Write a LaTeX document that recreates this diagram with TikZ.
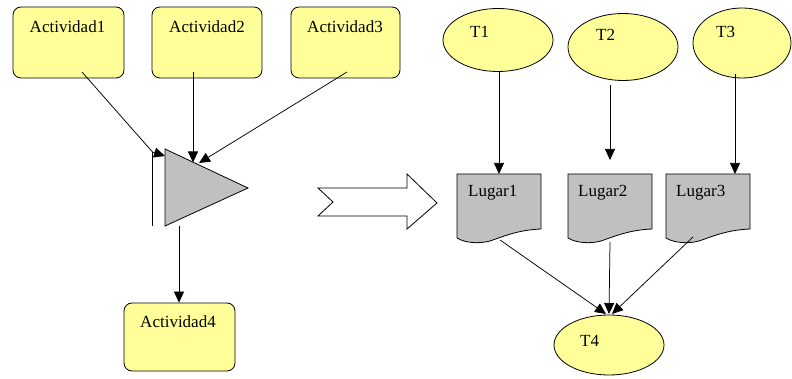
\documentclass[tikz,border=0pt]{standalone}
\usepackage{fontspec}
\newfontfamily\labelfont{Liberation Serif}
\usetikzlibrary{arrows.meta,shapes.geometric}
\definecolor{noteyellow}{HTML}{FFFF99}
\definecolor{placegray}{HTML}{C0C0C0}
\begin{document}
\begin{tikzpicture}[x=1pt,y=-1pt,
  font=\labelfont\fontsize{17}{19}\selectfont,
  outline/.style={draw=black, line width=0.8pt},
  actbox/.style={outline, fill=noteyellow, rounded corners=8pt,
    minimum width=#1, minimum height=71pt, inner sep=0pt},
  actbox/.default=111pt,
  tnode/.style={outline, fill=noteyellow, ellipse, inner sep=0pt},
  lbl/.style={inner sep=0pt, anchor=base},
  lblw/.style={inner sep=0pt, anchor=base west},
  arr/.style={draw, line width=0.75pt, -{Triangle[length=11pt,width=10pt]}},
  plain/.style={draw, line width=0.75pt},
  docpic/.pic={
    \draw[outline, fill=placegray] (0,0) -- (84,0) -- (84,55)
      .. controls (60,56) and (45,63) .. (33,67)
      .. controls (22,70) and (8,69) .. (0,64) -- cycle;
  }]
\useasboundingbox (0,0) rectangle (792,379);

% ---- left part: activities joined by a merge
\node[actbox] (a1) at (68.5,42.5) {};
\node[actbox=110pt] (a2) at (207,42.5) {};
\node[actbox=109pt] (a3) at (345.5,42.5) {};
\node[actbox, minimum height=68pt] (a4) at (179.5,337) {};
\node[lbl] (a1t) at (67.5,33) {Actividad1};
\node[lbl] (a2t) at (207,33) {Actividad2};
\node[lbl] (a3t) at (345,33) {Actividad3};
\node[lbl] (a4t) at (178,327) {Actividad4};

% merge triangle and its side bar
\draw[outline, fill=placegray] (165,149) -- (248,188) -- (165,226) -- cycle;
\coordinate (bartop) at (152.5,152);
\coordinate (barbot) at (152.5,226);
\draw[plain] (bartop) -- (barbot);

\coordinate (a1out) at (82,72);
\coordinate (a2out) at (193,72);
\coordinate (a3out) at (347,72);
\coordinate (trin1) at (165,156);
\coordinate (trin2) at (193,162.5);
\coordinate (trin3) at (199,163);
\coordinate (trout) at (179,226);
\draw[arr] (a1out) -- (bartop) -- (trin1);
\draw[arr] (a2out) -- (trin2);
\draw[arr] (a3out) -- (trin3);
\draw[arr] (trout) -- (a4.north -| trout);

% ---- hollow transformation arrow
\draw[outline, fill=white] (318,188) -- (407,188) -- (407,174) -- (437,203)
  -- (407,229) -- (407,216) -- (318,216) -- (333,202) -- cycle;

% ---- right part: transitions and places
\node[tnode, minimum width=110pt, minimum height=63pt] (t1) at (498,40) {};
\node[tnode, minimum width=110pt, minimum height=67pt] (t2) at (623,47) {};
\node[tnode, minimum width=98pt, minimum height=70pt] (t3) at (742,43) {};
\node[tnode, minimum width=110pt, minimum height=60pt] (t4) at (609,345) {};
\node[lblw] (t1t) at (470,38) {T1};
\node[lblw] (t2t) at (596,41) {T2};
\node[lblw] (t3t) at (716,38) {T3};
\node[lblw] (t4t) at (580,346) {T4};

\pic (p1) at (457,174) {docpic};
\pic (p2) at (568,174) {docpic};
\pic (p3) at (666,174) {docpic};
\node[lblw] (p1t) at (468,197) {Lugar1};
\node[lblw] (p2t) at (578,197) {Lugar2};
\node[lblw] (p3t) at (676,197) {Lugar3};

\coordinate (t1out) at (499,71);
\coordinate (t2out) at (610,85);
\coordinate (t3out) at (735,74);
\coordinate (p1in) at (499,174);
\coordinate (p2in) at (610,160);
\coordinate (p3in) at (735,174);
\draw[arr] (t1out) -- (p1in);
\draw[arr] (t2out) -- (p2in);
\draw[arr] (t3out) -- (p3in);

\coordinate (p1out) at (500,240);
\coordinate (p2out) at (610,242);
\coordinate (p3out) at (693,237);
\coordinate (t4in1) at (606,314);
\coordinate (t4in2) at (609,314);
\coordinate (t4in3) at (612,314);
\draw[arr] (p1out) -- (t4in1);
\draw[arr] (p2out) -- (t4in2);
\draw[arr] (p3out) -- (t4in3);
\end{tikzpicture}
\end{document}
